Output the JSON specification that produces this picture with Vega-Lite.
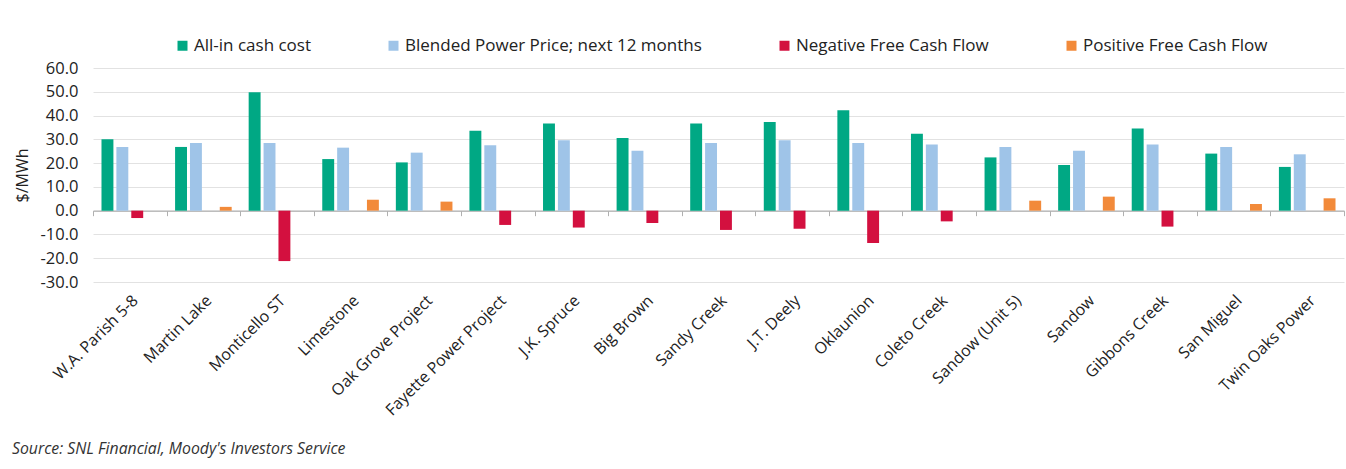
{
  "$schema": "https://vega.github.io/schema/vega-lite/v6.json",
  "width": 1251,
  "height": 214,
  "autosize": {"type": "none"},
  "padding": {"left": 93, "top": 68, "right": 2, "bottom": 187},
  "background": "white",
  "config": {"view": {"stroke": null}, "font": "Open Sans"},
  "title": {
    "text": "Source: SNL Financial, Moody's Investors Service",
    "orient": "bottom", "anchor": "start", "frame": "group",
    "font": "Open Sans", "fontStyle": "italic", "fontWeight": "normal",
    "fontSize": 15.8, "color": "#333333", "dx": -81, "offset": 24
  },
  "data": {"values": [
    {"plant": "W.A. Parish 5-8", "series": "All-in cash cost", "value": 30.0},
    {"plant": "W.A. Parish 5-8", "series": "Blended Power Price; next 12 months", "value": 26.8},
    {"plant": "W.A. Parish 5-8", "series": "Negative Free Cash Flow", "value": -3.1},
    {"plant": "Martin Lake", "series": "All-in cash cost", "value": 26.8},
    {"plant": "Martin Lake", "series": "Blended Power Price; next 12 months", "value": 28.5},
    {"plant": "Martin Lake", "series": "Positive Free Cash Flow", "value": 1.6},
    {"plant": "Monticello ST", "series": "All-in cash cost", "value": 49.8},
    {"plant": "Monticello ST", "series": "Blended Power Price; next 12 months", "value": 28.5},
    {"plant": "Monticello ST", "series": "Negative Free Cash Flow", "value": -21.2},
    {"plant": "Limestone", "series": "All-in cash cost", "value": 21.7},
    {"plant": "Limestone", "series": "Blended Power Price; next 12 months", "value": 26.5},
    {"plant": "Limestone", "series": "Positive Free Cash Flow", "value": 4.6},
    {"plant": "Oak Grove Project", "series": "All-in cash cost", "value": 20.3},
    {"plant": "Oak Grove Project", "series": "Blended Power Price; next 12 months", "value": 24.4},
    {"plant": "Oak Grove Project", "series": "Positive Free Cash Flow", "value": 3.8},
    {"plant": "Fayette Power Project", "series": "All-in cash cost", "value": 33.6},
    {"plant": "Fayette Power Project", "series": "Blended Power Price; next 12 months", "value": 27.5},
    {"plant": "Fayette Power Project", "series": "Negative Free Cash Flow", "value": -6.0},
    {"plant": "J.K. Spruce", "series": "All-in cash cost", "value": 36.7},
    {"plant": "J.K. Spruce", "series": "Blended Power Price; next 12 months", "value": 29.6},
    {"plant": "J.K. Spruce", "series": "Negative Free Cash Flow", "value": -7.1},
    {"plant": "Big Brown", "series": "All-in cash cost", "value": 30.6},
    {"plant": "Big Brown", "series": "Blended Power Price; next 12 months", "value": 25.2},
    {"plant": "Big Brown", "series": "Negative Free Cash Flow", "value": -5.2},
    {"plant": "Sandy Creek", "series": "All-in cash cost", "value": 36.7},
    {"plant": "Sandy Creek", "series": "Blended Power Price; next 12 months", "value": 28.5},
    {"plant": "Sandy Creek", "series": "Negative Free Cash Flow", "value": -8.1},
    {"plant": "J.T. Deely", "series": "All-in cash cost", "value": 37.3},
    {"plant": "J.T. Deely", "series": "Blended Power Price; next 12 months", "value": 29.6},
    {"plant": "J.T. Deely", "series": "Negative Free Cash Flow", "value": -7.6},
    {"plant": "Oklaunion", "series": "All-in cash cost", "value": 42.2},
    {"plant": "Oklaunion", "series": "Blended Power Price; next 12 months", "value": 28.5},
    {"plant": "Oklaunion", "series": "Negative Free Cash Flow", "value": -13.6},
    {"plant": "Coleto Creek", "series": "All-in cash cost", "value": 32.4},
    {"plant": "Coleto Creek", "series": "Blended Power Price; next 12 months", "value": 27.8},
    {"plant": "Coleto Creek", "series": "Negative Free Cash Flow", "value": -4.5},
    {"plant": "Sandow (Unit 5)", "series": "All-in cash cost", "value": 22.4},
    {"plant": "Sandow (Unit 5)", "series": "Blended Power Price; next 12 months", "value": 26.8},
    {"plant": "Sandow (Unit 5)", "series": "Positive Free Cash Flow", "value": 4.2},
    {"plant": "Sandow", "series": "All-in cash cost", "value": 19.2},
    {"plant": "Sandow", "series": "Blended Power Price; next 12 months", "value": 25.2},
    {"plant": "Sandow", "series": "Positive Free Cash Flow", "value": 5.9},
    {"plant": "Gibbons Creek", "series": "All-in cash cost", "value": 34.6},
    {"plant": "Gibbons Creek", "series": "Blended Power Price; next 12 months", "value": 27.8},
    {"plant": "Gibbons Creek", "series": "Negative Free Cash Flow", "value": -6.7},
    {"plant": "San Miguel", "series": "All-in cash cost", "value": 24.0},
    {"plant": "San Miguel", "series": "Blended Power Price; next 12 months", "value": 26.8},
    {"plant": "San Miguel", "series": "Positive Free Cash Flow", "value": 2.8},
    {"plant": "Twin Oaks Power", "series": "All-in cash cost", "value": 18.4},
    {"plant": "Twin Oaks Power", "series": "Blended Power Price; next 12 months", "value": 23.7},
    {"plant": "Twin Oaks Power", "series": "Positive Free Cash Flow", "value": 5.2}
  ]},
  "encoding": {
    "xOffset": {
      "field": "series", "type": "nominal",
      "scale": {
        "domain": ["All-in cash cost", "Blended Power Price; next 12 months", "Negative Free Cash Flow", "Positive Free Cash Flow"],
        "paddingInner": 0.2, "paddingOuter": 0.57
      }
    },
    "y": {
      "field": "value", "type": "quantitative",
      "scale": {"domain": [-30, 60], "nice": false, "zero": false},
      "axis": {
        "title": "$/MWh", "titleFontSize": 16, "titleFontWeight": "normal",
        "titleColor": "#222222", "titleFont": "Open Sans", "titlePadding": 10,
        "values": [-30, -20, -10, 0, 10, 20, 30, 40, 50, 60],
        "labelExpr": "replace(format(datum.value, '.1f'), '\u2212', '-')",
        "labelOverlap": false, "labelFlush": false, "labelBound": false,
        "labelFontSize": 16.5, "labelColor": "#222222", "labelFont": "Open Sans",
        "labelPadding": 15, "ticks": false, "domain": false,
        "grid": true, "gridColor": "#e2e2e2", "gridWidth": 1
      }
    }
  },
  "layer": [
    {
      "mark": {"type": "bar"},
      "encoding": {
        "x": {
          "field": "plant", "type": "nominal", "sort": null,
          "scale": {"paddingInner": 0, "paddingOuter": 0},
          "axis": {
            "orient": "bottom", "title": null, "labelAngle": -45,
            "labelFontSize": 16, "labelColor": "#222222", "labelFont": "Open Sans",
            "domain": false, "ticks": false, "labelPadding": 10, "labelLimit": 300
          }
        },
        "color": {
          "field": "series", "type": "nominal",
          "scale": {
            "domain": ["All-in cash cost", "Blended Power Price; next 12 months", "Negative Free Cash Flow", "Positive Free Cash Flow"],
            "range": ["#00a884", "#9fc4e8", "#d3103f", "#f28a3a"]
          },
          "legend": {
            "title": null, "orient": "none", "direction": "horizontal",
            "legendX": 81, "legendY": -31,
            "symbolType": "square", "symbolSize": 100, "symbolStrokeWidth": 0,
            "labelFontSize": 17, "labelColor": "#222222", "labelFont": "Open Sans",
            "labelOffset": 3, "columnPadding": 74, "labelLimit": 400
          }
        }
      }
    },
    {
      "mark": {"type": "bar", "opacity": 0},
      "encoding": {
        "x": {
          "field": "plant", "type": "nominal", "sort": null,
          "axis": {
            "orient": "bottom", "title": null, "labels": false, "offset": -71.33,
            "tickBand": "extent", "domain": true, "domainColor": "#b0b0b0", "domainWidth": 1.2,
            "ticks": true, "tickColor": "#b0b0b0", "tickSize": 5, "grid": false
          }
        }
      }
    }
  ],
  "resolve": {"axis": {"x": "independent"}}
}
